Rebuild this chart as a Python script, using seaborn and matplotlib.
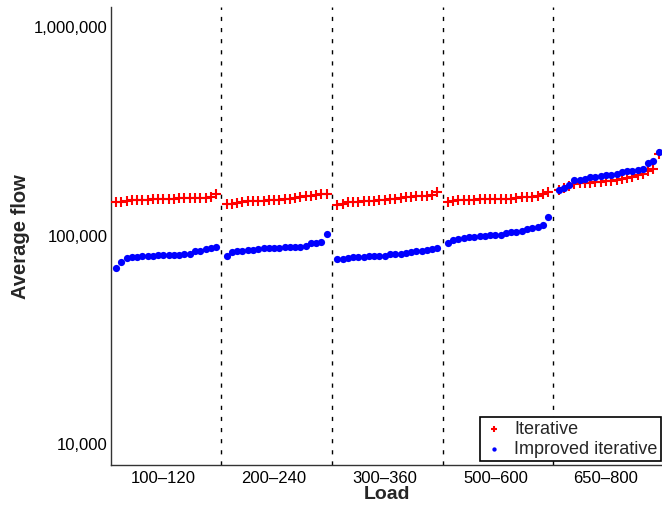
import numpy as np
import pandas as pd
import matplotlib
matplotlib.use("Agg")
import matplotlib.pyplot as plt
import seaborn as sns
from matplotlib.ticker import FixedLocator, NullLocator

groups = ["100\u2013120", "200\u2013240", "300\u2013360", "500\u2013600", "650\u2013800"]

iterative = [
    [144.3, 145.5, 147.5, 148.1, 148.4, 148.7, 148.9, 149.2, 149.4, 149.8, 150.3, 150.8, 151.0, 151.0, 151.3, 151.7, 152.0, 152.3, 152.6, 158.3],
    [141.2, 142.3, 143.4, 144.3, 146.0, 146.5, 147.0, 147.5, 147.6, 148.7, 148.8, 149.8, 150.3, 151.5, 152.5, 154.2, 155.4, 156.6, 157.7, 158.9],
    [140.0, 141.8, 144.3, 145.5, 145.6, 147.0, 147.1, 147.5, 147.6, 148.1, 149.8, 150.8, 151.3, 152.5, 153.0, 154.2, 154.8, 155.4, 156.6, 162.4],
    [144.3, 147.0, 148.1, 148.2, 148.7, 148.8, 149.2, 149.3, 149.8, 149.9, 150.3, 150.4, 150.8, 151.3, 152.5, 153.0, 153.6, 154.8, 157.7, 162.4],
    [166.0, 169.2, 174.0, 176.6, 178.6, 178.7, 179.8, 180.6, 181.9, 183.3, 184.0, 185.5, 186.9, 188.2, 191.2, 196.4, 197.9, 205.1, 208.6, 245.6],
]

improved = [
    [70.3, 74.5, 77.9, 78.7, 79.3, 79.6, 80.0, 80.2, 80.5, 80.6, 80.9, 81.0, 81.2, 81.7, 82.0, 84.1, 84.8, 86.7, 87.3, 88.3],
    [79.6, 83.2, 84.5, 84.8, 85.1, 85.2, 86.7, 87.3, 87.6, 87.6, 87.7, 87.9, 88.3, 88.4, 88.6, 88.9, 92.3, 92.6, 92.9, 101.4],
    [77.6, 77.7, 77.9, 79.1, 79.2, 79.3, 79.6, 80.0, 80.2, 80.3, 81.4, 81.7, 82.0, 82.6, 83.8, 84.1, 84.5, 85.1, 86.0, 87.3],
    [92.3, 95.0, 96.8, 97.1, 98.6, 98.9, 99.2, 99.7, 100.3, 100.8, 101.1, 102.6, 103.7, 104.5, 105.7, 108.0, 108.4, 109.6, 112.5, 123.3],
    [166.0, 169.8, 174.8, 185.5, 186.0, 186.2, 190.3, 190.4, 193.0, 195.2, 196.5, 198.0, 203.2, 204.0, 204.1, 207.6, 209.9, 222.6, 227.6, 253.0],
]

ytick_values = [10000, 100000, 1000000]
ytick_labels = ["10,000", "100,000", "1,000,000"]

# Build long table
rows = []
for g, name in enumerate(groups):
    for i in range(len(iterative[g])):
        pos = g * 21 + i + 1
        rows.append(dict(pos=pos, flow=iterative[g][i] * 1000, series="Iterative"))
        rows.append(dict(pos=pos, flow=improved[g][i] * 1000, series="Improved iterative"))
df = pd.DataFrame(rows)

sns.set_style("white")
plt.rcParams["font.family"] = ["Liberation Sans", "DejaVu Sans"]

fig = plt.figure(figsize=(6.62, 5.05), dpi=100)
ax = fig.add_axes([110.7 / 662, 40 / 505, 553.3 / 662, 457.7 / 505])

sns.scatterplot(data=df[df.series == "Iterative"], x="pos", y="flow", ax=ax,
                marker="+", color="#ff0000", s=42, linewidth=1.5, label="Iterative", zorder=3)
sns.scatterplot(data=df[df.series == "Improved iterative"], x="pos", y="flow", ax=ax,
                marker="o", color="#0000ff", s=27, linewidth=0, label="Improved iterative", zorder=4)

ax.set_yscale("log")
ax.set_xlim(0, 105)
ax.set_ylim(7930, 1.248e6)

for k in range(1, len(groups)):
    ax.axvline(k * 21, color="black", lw=1.0, linestyle=(0, (3, 5)), zorder=2)

ax.yaxis.set_major_locator(FixedLocator(ytick_values))
ax.yaxis.set_minor_locator(NullLocator())
ax.set_yticklabels(ytick_labels)
ax.set_xticks([g * 21 + 10 for g in range(len(groups))])
ax.set_xticklabels(groups)

ax.tick_params(axis="both", direction="in", length=4, width=1, color="#333333",
               labelsize=12, labelcolor="black")
ax.tick_params(axis="x", pad=4)
ax.tick_params(axis="y", pad=2)
for side in ["top", "right"]:
    ax.spines[side].set_visible(False)
for side in ["left", "bottom"]:
    ax.spines[side].set_color("#333333")
    ax.spines[side].set_linewidth(1.0)

ax.set_xlabel("Load", fontsize=14, fontweight="bold", labelpad=0)
ax.set_ylabel("Average flow", fontsize=14.5, fontweight="bold", labelpad=3)

leg = ax.legend(loc="lower right", bbox_to_anchor=(0.995, 0.008), frameon=True,
                fancybox=False, fontsize=13, handlelength=1.2, handletextpad=0.5,
                borderpad=0.2, labelspacing=0.15, borderaxespad=0, markerscale=0.6)
leg.get_frame().set_edgecolor("black")
leg.get_frame().set_linewidth(1.2)
leg.get_frame().set_alpha(1)

fig.savefig("out.png", dpi=100)
